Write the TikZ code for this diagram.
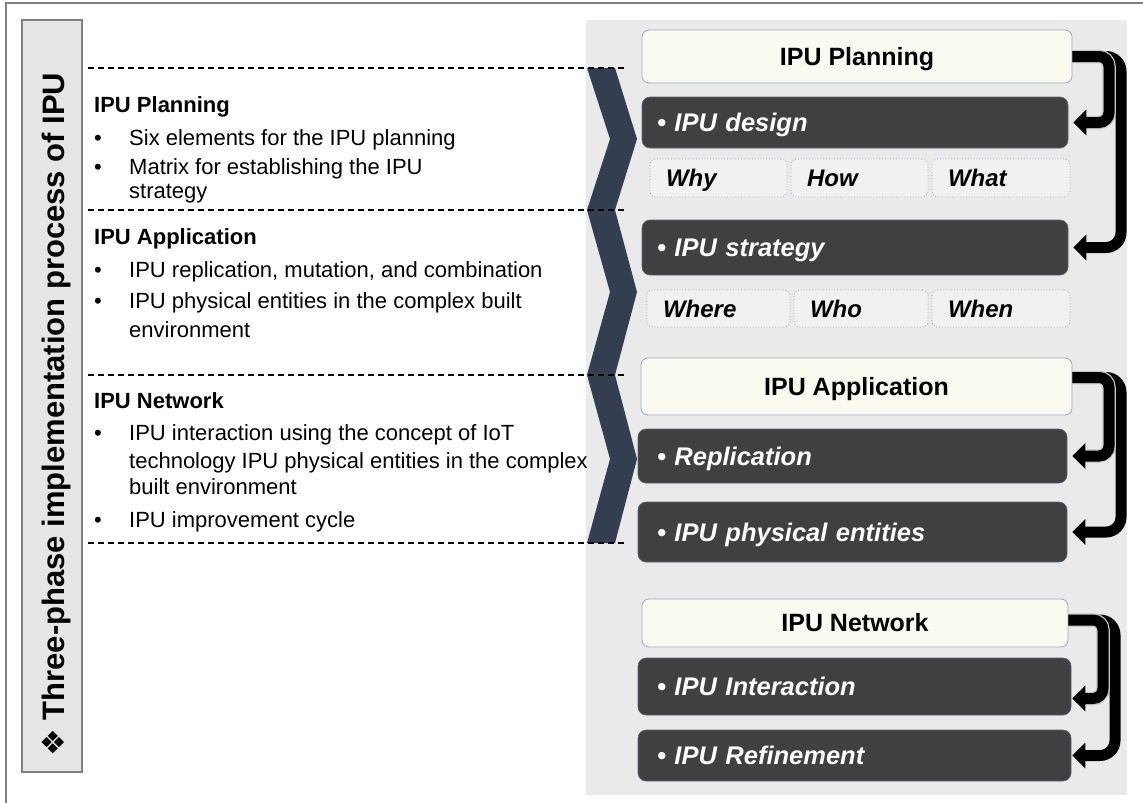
\documentclass[tikz,border=0pt]{standalone}
\usepackage{fontspec}
\setmainfont{Liberation Sans}
\newfontfamily\dejavu{DejaVu Sans}
\usetikzlibrary{arrows.meta}
\definecolor{chev}{HTML}{333F50}
\definecolor{darkfill}{HTML}{404040}
\definecolor{cream}{HTML}{FAFAF0}
\definecolor{boxedge}{HTML}{9AAAC2}
\definecolor{smallfill}{HTML}{F1F1F1}
\definecolor{panel}{HTML}{EAEAEA}
\definecolor{barfill}{HTML}{E6E6E6}
\definecolor{framegray}{HTML}{808080}
\begin{document}
\begin{tikzpicture}[x=1pt,y=-1pt,
  ltext/.style={anchor=base west, inner sep=0pt, font=\fontsize{22}{26}\selectfont},
  lhead/.style={anchor=base west, inner sep=0pt, font=\fontsize{22}{26}\selectfont\bfseries},
  hdrbox/.style={draw=boxedge, fill=cream, rounded corners=7pt, line width=0.8pt,
    minimum width=#1, text height=17.9pt, text depth=0pt,
    font=\fontsize{25}{30}\selectfont\bfseries},
  darkbx/.style={draw=boxedge!60!black, fill=darkfill, rounded corners=8pt, line width=0.6pt,
    text=white, align=left, text width=#1, text height=18.3pt, text depth=0pt,
    font=\fontsize{25.5}{30}\selectfont\bfseries\itshape},
  smallbx/.style={draw=boxedge, dotted, fill=smallfill, rounded corners=6pt, line width=0.8pt,
    align=left, text width=#1, inner xsep=16pt, minimum height=38pt, text height=17.2pt, text depth=0pt,
    font=\fontsize{24}{28}\selectfont\bfseries\itshape},
  sepline/.style={draw=black, dash pattern=on 6pt off 4pt, line width=1.1pt},
  chevron/.style={fill=chev},
  bigarrow/.style={line width=11pt, -{Triangle[width=25pt,length=13pt]}},
  arrowedge/.style={line width=13.5pt, draw=gray!45},
]
\useasboundingbox (0,0) rectangle (1143,803);
% outer frame
\draw[framegray, line width=1.5pt] (6,803) -- (6,3) -- (1143,3);
% vertical title bar
\draw[framegray, fill=barfill, line width=1.2pt] (22,20) rectangle (82,772);
\node[rotate=90, anchor=base west, inner sep=0pt, font=\fontsize{31}{36}\selectfont\bfseries] (title) at (64,757)
  {{\dejavu ❖}\ Three-phase implementation process of IPU};
% right panel background
\fill[panel] (586,20) rectangle (1127,795);
% chevrons
\fill[chevron] (587,68) -- (615,68) -- (637,139) -- (615,210) -- (587,210) -- (610,139) -- cycle;
\fill[chevron] (587,210) -- (615,210) -- (637,292) -- (615,375) -- (587,375) -- (610,292) -- cycle;
\fill[chevron] (587,375) -- (615,375) -- (637,459) -- (615,543) -- (587,543) -- (610,459) -- cycle;
% dashed separators
\draw[sepline] (88,68) -- (625,68);
\draw[sepline] (88,210) -- (625,210);
\draw[sepline] (88,375) -- (625,375);
\draw[sepline] (88,543) -- (625,543);
% left texts
\node[lhead] (lh1) at (94,112) {IPU Planning};
\node[ltext] (b1a) at (94,145) {•};
\node[ltext] (t1a) at (129,145) {Six elements for the IPU planning};
\node[ltext] (b1b) at (94,174) {•};
\node[ltext] (t1b) at (129,174) {Matrix for establishing the IPU};
\node[ltext] (t1c) at (129,198) {strategy};
\node[lhead] (lh2) at (94,244) {IPU Application};
\node[ltext] (b2a) at (94,277) {•};
\node[ltext] (t2a) at (129,277) {IPU replication, mutation, and combination};
\node[ltext] (b2b) at (94,308) {•};
\node[ltext] (t2b) at (129,308) {IPU physical entities in the complex built};
\node[ltext] (t2c) at (129,337) {environment};
\node[lhead] (lh3) at (94,408) {IPU Network};
\node[ltext] (b3a) at (94,440) {•};
\node[ltext] (t3a) at (129,440) {IPU interaction using the concept of IoT};
\node[ltext] (t3b) at (129,468) {technology IPU physical entities in the complex};
\node[ltext] (t3c) at (129,494) {built environment};
\node[ltext] (b3b) at (94,527) {•};
\node[ltext] (t3d) at (129,527) {IPU improvement cycle};
% right boxes: planning
\node[hdrbox=430pt, minimum height=53pt] (h1) at (857,56.5) {IPU Planning};
\node[darkbx=396pt, inner xsep=15pt, minimum height=51pt] (d1) at (855,122.5) {• IPU design};
\node[smallbx=105pt] (why) at (718.5,178) {Why};
\node[smallbx=105pt] (how) at (859.5,178) {How};
\node[smallbx=106pt] (what) at (1001,178) {What};
\node[darkbx=396pt, inner xsep=15pt, minimum height=55pt] (d2) at (855,247.5) {• IPU strategy};
\node[smallbx=111pt, minimum height=37pt] (where) at (718.5,308.5) {Where};
\node[smallbx=102pt, minimum height=37pt] (who) at (861,308.5) {Who};
\node[smallbx=106pt, minimum height=37pt] (when) at (1001,308.5) {When};
% application
\node[hdrbox=431pt, minimum height=57pt] (h2) at (856.5,386.5) {IPU Application};
\node[darkbx=391pt, inner xsep=19pt, minimum height=54pt] (d3) at (852.5,456) {• Replication};
\node[darkbx=391pt, inner xsep=19pt, minimum height=60pt] (d4) at (852.5,532) {• IPU physical entities};
% network
\node[hdrbox=426pt, minimum height=48pt] (h3) at (855,623) {IPU Network};
\node[darkbx=395pt, inner xsep=19pt, minimum height=57pt] (d5) at (854.5,686.5) {• IPU Interaction};
\node[darkbx=395pt, inner xsep=19pt, minimum height=51pt] (d6) at (854.5,755.5) {• IPU Refinement};
% bracket arrows
\coordinate (g1o) at (1121,0);
\coordinate (g1i) at (1109,0);
\coordinate (g3o) at (1115,0);
\coordinate (g3i) at (1103,0);
\coordinate (h2s) at ([yshift=9pt]h2.east);
\coordinate (h3s) at ([yshift=3pt]h3.east);
\coordinate (d5t) at ([yshift=-12pt]d5.east);
% group 1
\draw[bigarrow, rounded corners=15pt, shorten >=5pt] (h1.east) -| (g1o |- d2.east) -- (d2.east);
\draw[arrowedge, rounded corners=10pt, shorten >=16pt] (h1.east) -| (g1i |- d1.east) -- (d1.east);
\draw[bigarrow, rounded corners=10pt, shorten >=5pt] (h1.east) -| (g1i |- d1.east) -- (d1.east);
% group 2
\draw[bigarrow, rounded corners=15pt, shorten >=5pt] (h2s) -| (g1o |- d4.east) -- (d4.east);
\draw[arrowedge, rounded corners=10pt, shorten >=16pt] (h2s) -| (g1i |- d3.east) -- (d3.east);
\draw[bigarrow, rounded corners=10pt, shorten >=5pt] (h2s) -| (g1i |- d3.east) -- (d3.east);
% group 3
\draw[bigarrow, rounded corners=15pt, shorten >=1pt] (h3s) -| (g3o |- d6.east) -- (d6.east);
\draw[arrowedge, rounded corners=10pt, shorten >=12pt] (h3s) -| (g3i |- d5t) -- (d5t);
\draw[bigarrow, rounded corners=10pt, shorten >=1pt] (h3s) -| (g3i |- d5t) -- (d5t);
\end{tikzpicture}
\end{document}
